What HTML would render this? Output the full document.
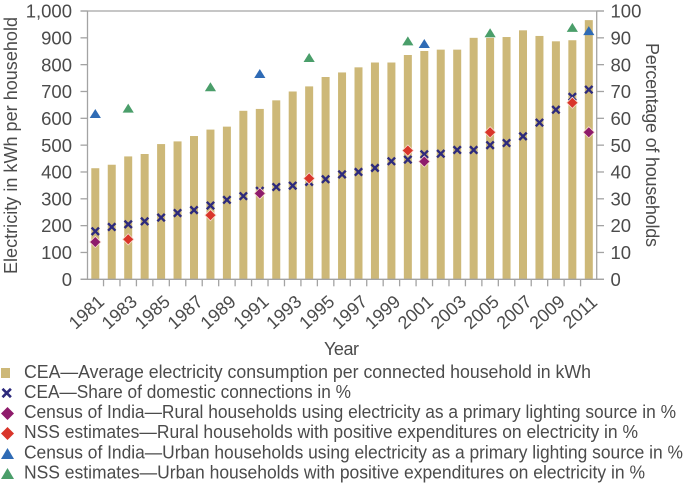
<!DOCTYPE html>
<html lang="en">
<head>
<meta charset="utf-8">
<title>Electricity consumption and access in India</title>
<style>
html,body{margin:0;padding:0;background:#fff;width:685px;height:484px;overflow:hidden}
svg{display:block}
text{font-family:"Liberation Sans",sans-serif;fill:#4b4b4b}
</style>
</head>
<body>
<svg id="chart" xmlns="http://www.w3.org/2000/svg" width="685" height="484" viewBox="0 0 685 484">
  <g id="bars"></g>
  <g id="axes"></g>
  <g id="marks"></g>
  <text transform="translate(17,274) rotate(-90)" font-size="18" textLength="257" lengthAdjust="spacing">Electricity in kWh per household</text>
  <text transform="translate(646,43) rotate(90)" font-size="18" textLength="204" lengthAdjust="spacing">Percentage of households</text>
  <text x="324" y="355" font-size="18" textLength="35" lengthAdjust="spacing">Year</text>
  <g font-size="18">
    <rect x="1" y="368" width="9" height="10" fill="#cdb878"/>
    <path d="M2.5 388.8L10.9 397.2M10.9 388.8L2.5 397.2" stroke="#2d2a7c" stroke-width="2.6" fill="none"/>
    <path d="M7.5 407L14 413.5L7.5 420L1 413.5Z" fill="#8e1b6b"/>
    <path d="M7.5 427L14 433.5L7.5 440L1 433.5Z" fill="#d9352a"/>
    <path d="M7.5 448L14 459L1 459Z" fill="#2f6bb5"/>
    <path d="M7.5 468L14 479L1 479Z" fill="#4a9e6a"/>
    <text x="24" y="378" textLength="567" lengthAdjust="spacingAndGlyphs">CEA—Average electricity consumption per connected household  in kWh</text>
    <text x="24" y="398" textLength="327" lengthAdjust="spacingAndGlyphs">CEA—Share of domestic connections in %</text>
    <text x="24" y="418" textLength="652" lengthAdjust="spacingAndGlyphs">Census of India—Rural households using electricity as a primary lighting source in %</text>
    <text x="24" y="438" textLength="614" lengthAdjust="spacingAndGlyphs">NSS estimates—Rural households with positive expenditures on electricity in %</text>
    <text x="24" y="458.5" textLength="659" lengthAdjust="spacingAndGlyphs">Census of India—Urban households using electricity as a primary lighting source in %</text>
    <text x="24" y="478.5" textLength="621" lengthAdjust="spacingAndGlyphs">NSS estimates—Urban households with positive expenditures on electricity in %</text>
  </g>
</svg>
<script>
const years = [1981,1982,1983,1984,1985,1986,1987,1988,1989,1990,1991,1992,1993,1994,1995,1996,1997,1998,1999,2000,2001,2002,2003,2004,2005,2006,2007,2008,2009,2010,2011];
const consumption = [414,427,458,467,504,514,534,558,569,628,635,667,700,719,754,771,790,808,808,836,851,856,856,900,900,903,928,907,887,891,966];
const shareConnections = [17.9,19.5,20.5,21.6,23,24.7,25.8,27.5,29.6,31,33,34.4,34.9,36.3,37.3,39.1,40,41.5,44,44.6,46.6,46.8,48.2,48.2,50,50.8,53.3,58.4,63.2,68,70.7];
const censusRuralYears = [1981,1991,2001,2011];
const censusRural = [13.9,32,43.9,54.8];
const nssRuralYears = [1983,1988,1994,2000,2005,2010];
const nssRural = [14.9,23.9,37.6,48,54.8,65.8];
const censusUrbanYears = [1981,1991,2001,2011];
const censusUrban = [61.6,76.5,87.7,92.5];
const nssUrbanYears = [1983,1988,1994,2000,2005,2010];
const nssUrban = [63.6,71.6,82.5,88.7,91.7,93.7];
const leftTicks = [0,100,200,300,400,500,600,700,800,900,1000];
const leftTickLabels = ['0','100','200','300','400','500','600','700','800','900','1,000'];
const rightTicks = [0,10,20,30,40,50,60,70,80,90,100];
const xTickLabels = [1981,1983,1985,1987,1989,1991,1993,1995,1997,1999,2001,2003,2005,2007,2009,2011];

const NS = 'http://www.w3.org/2000/svg';
const plotLeft = 87.5, plotRight = 596.7, plotTop = 11, plotBottom = 279.3;
const firstX = 95.3, stepX = 16.45;
function xScale(year){ return firstX + (year - years[0]) * stepX; }
function yLeft(v){ return plotBottom - (v / 1000) * (plotBottom - plotTop); }
function yRight(v){ return plotBottom - (v / 100) * (plotBottom - plotTop); }
function make(tag, attrs, parent){
  const el = document.createElementNS(NS, tag);
  for (const k in attrs) el.setAttribute(k, attrs[k]);
  parent.appendChild(el);
  return el;
}
const barsG = document.getElementById('bars');
const axesG = document.getElementById('axes');
const marksG = document.getElementById('marks');
const axisColor = '#a3a3a3';

years.forEach(function(yr, i){
  const top = yLeft(consumption[i]);
  const r = make('rect', {x: xScale(yr) - 4, y: top, width: 8, height: plotBottom - top, fill: '#cdb878'}, barsG);
  
  
});

function axisLine(x1, y1, x2, y2, name){
  const l = make('line', {x1: x1, y1: y1, x2: x2, y2: y2, stroke: axisColor, 'stroke-width': 1.3}, axesG);
  
  
}
axisLine(plotLeft, plotTop, plotLeft, plotBottom, 'left-axis-line');
axisLine(plotRight, plotTop, plotRight, plotBottom, 'right-axis-line');
axisLine(80.5, plotTop, 604, plotTop, 'top-axis-line');
axisLine(80.5, plotBottom, 604, plotBottom, 'bottom-axis-line');

leftTicks.forEach(function(v, i){
  const y = yLeft(v);
  axisLine(80.5, y, plotLeft, y, 'left-tick-' + v);
  const t = make('text', {x: 72, y: y + 6.6, 'font-size': 18.5, 'text-anchor': 'end'}, axesG);
  t.textContent = leftTickLabels[i];
  
  
});
rightTicks.forEach(function(v){
  const y = yRight(v);
  axisLine(plotRight, y, 604, y, 'right-tick-' + v);
  const t = make('text', {x: 610.5, y: y + 6.6, 'font-size': 18.5}, axesG);
  t.textContent = String(v);
  
  
});
years.slice(0, -1).forEach(function(yr){
  const x = xScale(yr) + stepX / 2;
  axisLine(x, plotBottom, x, plotBottom + 7, 'x-tick-' + yr);
});
xTickLabels.forEach(function(yr){
  const cx = xScale(yr) - 9, cy = 312;
  const t = make('text', {x: 0, y: 6.3, 'font-size': 18, 'text-anchor': 'middle', transform: 'translate(' + cx + ',' + cy + ') rotate(-42)'}, axesG);
  t.textContent = String(yr);
  
  
});

shareConnections.forEach(function(v, i){
  const cx = xScale(years[i]), cy = yRight(v), s = 3.7;
  const p = make('path', {d: 'M' + (cx - s) + ' ' + (cy - s) + 'L' + (cx + s) + ' ' + (cy + s) + 'M' + (cx + s) + ' ' + (cy - s) + 'L' + (cx - s) + ' ' + (cy + s), stroke: '#2d2a7c', 'stroke-width': 2.4, fill: 'none'}, marksG);
  
  
});
function diamonds(yrs, vals, color, prefix){
  vals.forEach(function(v, i){
    const cx = xScale(yrs[i]), cy = yRight(v), s = 5.6;
    const p = make('path', {d: 'M' + cx + ' ' + (cy - s) + 'L' + (cx + s) + ' ' + cy + 'L' + cx + ' ' + (cy + s) + 'L' + (cx - s) + ' ' + cy + 'Z', fill: color, stroke: '#f6dcd0', 'stroke-width': 0.8}, marksG);
    
    
  });
}
function triangles(yrs, vals, color, prefix){
  vals.forEach(function(v, i){
    const cx = xScale(yrs[i]), cy = yRight(v);
    const p = make('path', {d: 'M' + cx + ' ' + (cy - 5) + 'L' + (cx + 5.6) + ' ' + (cy + 4) + 'L' + (cx - 5.6) + ' ' + (cy + 4) + 'Z', fill: color}, marksG);
    
    
  });
}
diamonds(censusRuralYears, censusRural, '#8e1b6b', 'census-rural');
diamonds(nssRuralYears, nssRural, '#d9352a', 'nss-rural');
triangles(censusUrbanYears, censusUrban, '#2f6bb5', 'census-urban');
triangles(nssUrbanYears, nssUrban, '#4a9e6a', 'nss-urban');
</script>
</body>
</html>
